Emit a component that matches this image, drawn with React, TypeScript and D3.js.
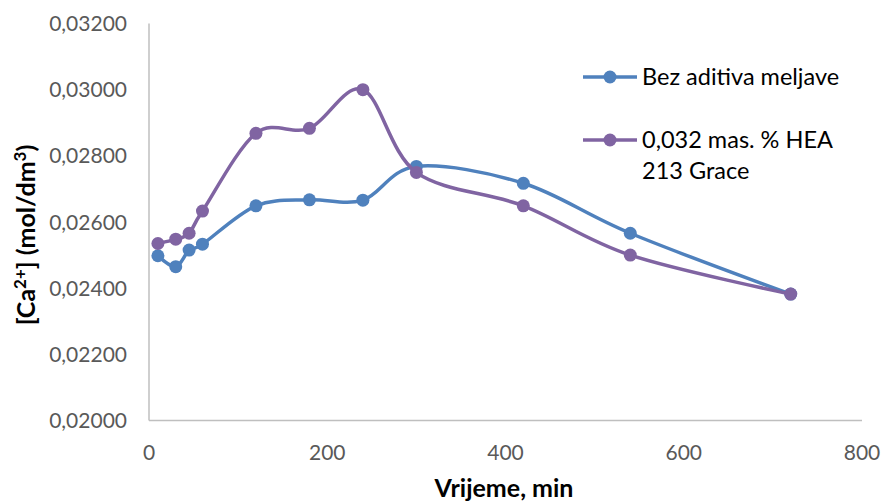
import React from "react";
import * as d3 from "d3";

const times = [10, 30, 45, 60, 120, 180, 240, 300, 420, 540, 720];
const bezAditiva = [0.02498, 0.02465, 0.02515, 0.02533, 0.02649, 0.02667, 0.02666, 0.02768, 0.02717, 0.02566, 0.02382];
const hea213 = [0.02535, 0.02548, 0.02566, 0.02633, 0.02868, 0.02883, 0.03, 0.0275, 0.02649, 0.025, 0.02382];
const yTicks = [0.02, 0.022, 0.024, 0.026, 0.028, 0.03, 0.032];
const xTicks = [0, 200, 400, 600, 800];
const seriesNames = ["Bez aditiva meljave", "0,032 mas. % HEA 213 Grace"];
const colors = ["#4F81BD", "#8064A2"];

const W = 883;
const H = 501;
const FONT = "Lato, 'Open Sans', sans-serif";

export default function App() {
  const x = d3.scaleLinear().domain([0, 800]).range([149, 862]);
  const y = d3.scaleLinear().domain([0.02, 0.032]).range([420.5, 23.5]);
  const line = d3
    .line<[number, number]>()
    .x((d) => x(d[0]))
    .y((d) => y(d[1]))
    .curve(d3.curveCardinal.tension(0));
  const series = [bezAditiva, hea213].map((vals) => times.map((t, i) => [t, vals[i]] as [number, number]));
  const fmt = (v: number) => v.toFixed(5).replace(".", ",");

  return (
    <svg width={W} height={H} style={{ position: "absolute", left: 0, top: 0, background: "#fff" }}>
      <line x1={x(0)} x2={x(0)} y1={y(0.032)} y2={y(0.02)} stroke="#BFBFBF" strokeWidth={1.5} />
      <line x1={x(0)} x2={x(800)} y1={y(0.02)} y2={y(0.02)} stroke="#BFBFBF" strokeWidth={1.5} />
      {yTicks.map((t) => (
        <text key={t} x={127} y={y(t) + 7.5} textAnchor="end" fontFamily={FONT} fontSize={21} fill="#595959">
          {fmt(t)}
        </text>
      ))}
      {xTicks.map((t) => (
        <text key={t} x={x(t)} y={460} textAnchor="middle" fontFamily={FONT} fontSize={21} fill="#595959">
          {t}
        </text>
      ))}
      <text x={504} y={497} textAnchor="middle" fontFamily={FONT} fontSize={25} fontWeight="bold" fill="#000">
        Vrijeme, min
      </text>
      <text
        transform="translate(35,235) rotate(-90)"
        textAnchor="middle"
        fontFamily={FONT}
        fontSize={25}
        fontWeight="bold"
        fill="#000"
      >
        [Ca<tspan dy={-9} fontSize={17}>2+</tspan>
        <tspan dy={9}>] (mol/dm</tspan>
        <tspan dy={-9} fontSize={17}>3</tspan>
        <tspan dy={9}>)</tspan>
      </text>
      {series.map((s, i) => (
        <g key={i}>
          <path d={line(s) || ""} fill="none" stroke={colors[i]} strokeWidth={3.5} />
          {s.map((d, j) => (
            <circle key={j} cx={x(d[0])} cy={y(d[1])} r={6.5} fill={colors[i]} />
          ))}
        </g>
      ))}
      {/* legend */}
      <g>
        <line x1={583} x2={637} y1={77} y2={77} stroke={colors[0]} strokeWidth={3.5} />
        <circle cx={610} cy={77} r={6.5} fill={colors[0]} />
        <text x={642} y={85} fontFamily={FONT} fontSize={23.5} fill="#000">
          {seriesNames[0]}
        </text>
        <line x1={583} x2={637} y1={140} y2={140} stroke={colors[1]} strokeWidth={3.5} />
        <circle cx={610} cy={140} r={6.5} fill={colors[1]} />
        <text x={642} y={148} fontFamily={FONT} fontSize={23.5} fill="#000">
          <tspan x={642}>0,032 mas. % HEA</tspan>
          <tspan x={642} dy={31}>213 Grace</tspan>
        </text>
      </g>
    </svg>
  );
}
